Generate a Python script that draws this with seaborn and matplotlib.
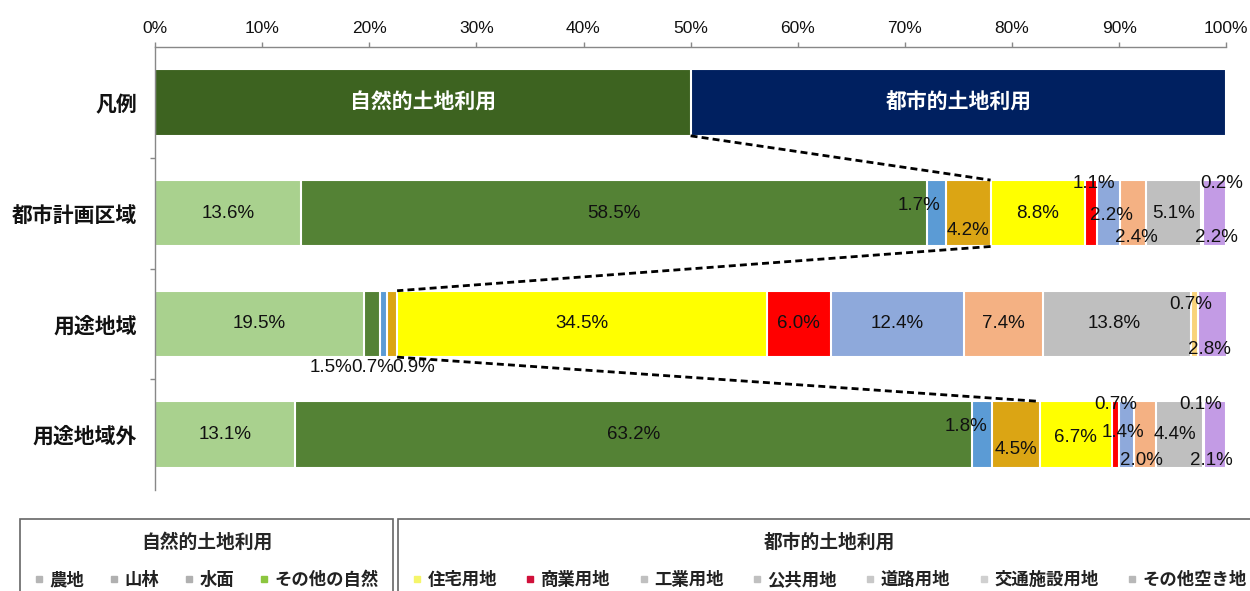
import numpy as np
import pandas as pd
import matplotlib
matplotlib.use("Agg")
import matplotlib.pyplot as plt
import seaborn as sns
from matplotlib import font_manager
from matplotlib.lines import Line2D

# ---------------- data ----------------
rows = ["凡例", "都市計画区域", "用途地域", "用途地域外"]
data_rows = ["都市計画区域", "用途地域", "用途地域外"]
natural_cats = ["農地", "山林", "水面", "その他の自然"]
urban_cats = ["住宅用地", "商業用地", "工業用地", "公共用地", "道路用地", "交通施設用地", "その他空き地"]
categories = natural_cats + urban_cats

toshi_keikaku = [13.6, 58.5, 1.7, 4.2, 8.8, 1.1, 2.2, 2.4, 5.1, 0.2, 2.2]
youto = [19.5, 1.5, 0.7, 0.9, 34.5, 6.0, 12.4, 7.4, 13.8, 0.7, 2.8]
youto_gai = [13.1, 63.2, 1.8, 4.5, 6.7, 0.7, 1.4, 2.0, 4.4, 0.1, 2.1]
row_values = [toshi_keikaku, youto, youto_gai]

legend_groups = ["自然的土地利用", "都市的土地利用"]
legend_values = [50, 50]

tick_values = [0, 10, 20, 30, 40, 50, 60, 70, 80, 90, 100]
tick_labels = [f"{v}%" for v in tick_values]

# ---------------- styles ----------------
colors = ["#a9d18e", "#548235", "#5b9bd5", "#dba514",
          "#ffff00", "#ff0000", "#8ea9db", "#f4b183", "#bfbfbf", "#f9d37a", "#c39be5"]
legend_marker_colors = ["#b5b5b5", "#b0b0b0", "#b0b0b0", "#8cc63f",
                        "#f5f56a", "#d0103a", "#c0c0c0", "#c0c0c0", "#c8c8c8", "#d0d0d0", "#b8b8b8"]
group_colors = ["#3d6320", "#002060"]

# label offsets in pixels (dx right, dy down) for each row / segment
label_offsets = [
    [(0, 0), (0, 0), (-17, -8), (0, 17), (0, 0), (3, -30), (3, 2), (3, 24), (0, 0), (20, -30), (2, 24)],
    [(0, 0), (-41, 44), (-11, 44), (21, 44), (0, 0), (0, 0), (0, 0), (0, 0), (-3, 0), (-4, -19), (-4, 26)],
    [(0, 0), (0, 0), (-16, -8), (0, 15), (0, 3), (0, -30), (-4, -2), (-3, 26), (-4, 0), (-3, -30), (-4, 26)],
]

sns.set_theme(style="white")
jp_font = "Noto Sans CJK JP"
num_font = "Liberation Sans"
plt.rcParams["font.family"] = [jp_font, "DejaVu Sans"]

fig = plt.figure(figsize=(12.5, 5.91), dpi=100)
fig.patch.set_facecolor("white")
ax = fig.add_axes([0.124, 0.171, 0.857, 0.749])

bar_w = 0.6

# stacked bars: draw cumulative totals from the right-most segment down
long = []
for r, vals in zip(data_rows, row_values):
    cum = np.cumsum(vals)
    for k, c in enumerate(categories):
        long.append({"row": r, "cat": c, "k": k, "cum": cum[k], "val": vals[k]})
df = pd.DataFrame(long)

for k in range(len(categories) - 1, -1, -1):
    sub = df[df["k"] == k]
    sns.barplot(data=sub, x="cum", y="row", order=rows, orient="h", color=colors[k],
                width=bar_w, edgecolor="white", linewidth=1.5, errorbar=None,
                saturation=1, ax=ax)

# legend-row bars
leg_df = pd.DataFrame({"row": ["凡例"] * 2, "grp": legend_groups,
                       "cum": np.cumsum(legend_values)})
for i in range(len(legend_groups) - 1, -1, -1):
    sns.barplot(data=leg_df.iloc[[i]], x="cum", y="row", order=rows, orient="h",
                color=group_colors[i], width=bar_w, edgecolor="white", linewidth=1.5,
                errorbar=None, saturation=1, ax=ax)
left = 0
for g, v in zip(legend_groups, legend_values):
    ax.text(left + v / 2, 0, g, ha="center", va="center", color="white",
            fontsize=15, fontweight="bold", family=[jp_font, "DejaVu Sans"])
    left += v

# value labels
for ri, (r, vals) in enumerate(zip(data_rows, row_values)):
    yi = rows.index(r)
    cum = np.cumsum(vals)
    for k, v in enumerate(vals):
        dx, dy = label_offsets[ri][k]
        ax.annotate(f"{v:.1f}%", xy=(cum[k] - v / 2, yi), xytext=(dx * 0.72, -dy * 0.72),
                    textcoords="offset points", ha="center", va="center",
                    fontsize=13.5, family=num_font, color="#111111")

# dashed connector lines between natural/urban boundaries
half = bar_w / 2
bounds = [legend_values[0]] + [sum(v[:len(natural_cats)]) for v in row_values]
for i in range(len(bounds) - 1):
    ax.plot([bounds[i], bounds[i + 1]], [i + half, i + 1 - half], ls="--", color="black",
            lw=2, dashes=(2.5, 1.5), zorder=5)

# axes styling
ax.set_xlim(0, 100)
ax.set_ylim(3.5, -0.5)
ax.xaxis.tick_top()
ax.set_xticks(tick_values)
ax.set_xticklabels(tick_labels, family=num_font, fontsize=12.5)
ax.set_xlabel("")
ax.set_ylabel("")
ax.tick_params(axis="x", which="major", direction="out", length=3.6, width=1,
               color="#888888", pad=4.5, labelcolor="#111111", top=True, bottom=False)
ax.set_yticks(range(len(rows)))
ax.set_yticklabels(rows, fontsize=15, fontweight="bold", family=[jp_font, "DejaVu Sans"])
ax.set_yticks([0.5, 1.5, 2.5], minor=True)
ax.tick_params(axis="y", which="major", length=0, pad=13, labelcolor="#111111")
ax.tick_params(axis="y", which="minor", length=3.6, width=1, color="#888888", left=True)
for s in ["bottom", "right"]:
    ax.spines[s].set_visible(False)
for s in ["top", "left"]:
    ax.spines[s].set_visible(True)
    ax.spines[s].set_color("#888888")
    ax.spines[s].set_linewidth(1)
ax.grid(False)

# bottom legends
def make_handles(cats, cols):
    return [Line2D([], [], marker="s", linestyle="", markersize=4.5, color=c, label=n)
            for n, c in zip(cats, cols)]

nat_handles = make_handles(natural_cats, legend_marker_colors[:4])
urb_handles = make_handles(urban_cats, legend_marker_colors[4:])
top_y = 1 - 519 / 591
leg_common = dict(loc="upper left", mode="expand", fancybox=False, borderpad=0.8,
                  borderaxespad=0, labelspacing=1.1,
                  handlelength=0.6, handletextpad=0.3, columnspacing=0.8,
                  prop={"family": [jp_font, "DejaVu Sans"], "size": 12.5, "weight": "bold"},
                  title_fontproperties={"family": [jp_font, "DejaVu Sans"], "size": 13.5, "weight": "bold"},
                  framealpha=1, labelcolor="#222222")
leg1 = fig.legend(handles=nat_handles, ncol=4, title=legend_groups[0],
                  bbox_to_anchor=(20 / 1250, 0.0, 373 / 1250, top_y), **leg_common)
leg2 = fig.legend(handles=urb_handles, ncol=7, title=legend_groups[1],
                  bbox_to_anchor=(398 / 1250, 0.0, 0.69, top_y), **leg_common)
for lg in (leg1, leg2):
    lg.get_frame().set_edgecolor("#666666")
    lg.get_frame().set_linewidth(1.2)

fig.savefig("out.png", dpi=100, facecolor="white")
